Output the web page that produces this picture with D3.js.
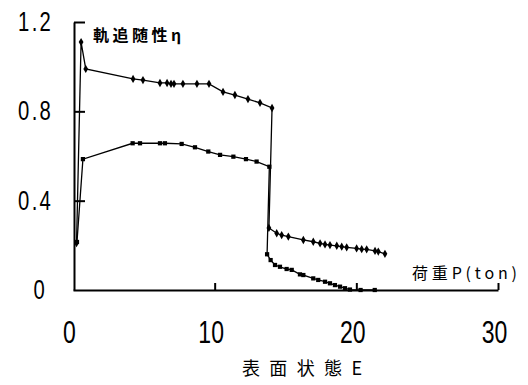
<html>
<head>
<script src="https://d3js.org/d3.v7.min.js"></script>
<style>
  body { margin: 0; background: #fff; }
  .axis path, .axis line { stroke: #000; stroke-width: 2; }
  .axis text { fill: #000; font-family: "Liberation Sans", sans-serif; }
</style>
</head>
<body>
<svg id="chart" width="528" height="385"></svg>
<script>
// x-axis / y-axis ticks
const xTicks = [0, 10, 20, 30];
const yTicks = [0, 0.4, 0.8, 1.2];

// upper curve (diamonds): [P, value]
const upperSeries = [
  [0.25, 0.21], [0.57, 1.11], [0.9, 0.99],
  [4.24, 0.945], [4.94, 0.940], [6.14, 0.927], [6.64, 0.927], [6.92, 0.923], [7.13, 0.923],
  [7.76, 0.923], [8.75, 0.923], [9.6, 0.923], [10.59, 0.887], [11.43, 0.873], [12.35, 0.855],
  [13.2, 0.838], [14.05, 0.815],
  [13.83, 0.278], [14.38, 0.254], [14.73, 0.246], [15.2, 0.239], [16.26, 0.224], [16.96, 0.216],
  [17.44, 0.209], [17.79, 0.204], [18.14, 0.201], [18.62, 0.198], [18.97, 0.194], [19.32, 0.191],
  [20.02, 0.186], [20.38, 0.183], [20.73, 0.182], [21.32, 0.175], [21.55, 0.172], [22.02, 0.162]
];

// lower curve (squares): [P, value]
const lowerSeries = [
  [0.28, 0.215], [0.7, 0.586],
  [4.21, 0.657], [4.73, 0.657], [6.14, 0.657], [6.49, 0.657], [7.67, 0.654], [8.61, 0.639],
  [9.55, 0.620], [10.38, 0.605], [11.32, 0.597], [12.21, 0.586], [12.96, 0.575], [13.86, 0.552],
  [13.7, 0.16], [13.95, 0.134], [14.26, 0.112], [14.61, 0.104], [15.08, 0.094], [15.44, 0.09],
  [16.02, 0.070], [16.26, 0.067], [16.96, 0.052], [17.31, 0.045], [17.79, 0.037], [18.14, 0.030],
  [18.49, 0.022], [18.85, 0.015], [19.2, 0.008], [19.55, 0.002], [20.3, 0.0], [21.3, 0.0]
];

const yTitle = "軌追随性η";
const xTitle = "表面状態E";
const loadTitle = "荷重P(ton)";

const svg = d3.select("svg#chart");

const xScale = d3.scaleLinear().domain([0, 30]).range([73, 498]);
const yScale = d3.scaleLinear().domain([0, 1.2]).range([290, 22]);

// x axis, ticks pointing up into the plot
let bottomAxis = d3.axisBottom(xScale)
  .tickValues(xTicks)
  .tickSize(-7)
  .tickSizeOuter(0)
  .tickPadding(30)
  .tickFormat(d3.format("d"));

let xAxisG = svg.append("g")
  .attr("class", "x axis")
  .attr("transform", "translate(0,290)")
  .call(bottomAxis);
xAxisG.selectAll(".tick line").filter(d => d === 0).remove();
xAxisG.selectAll("text")
  .attr("font-size", 32)
  .attr("transform", "scale(0.72,1)")
  .attr("x", -4 / 0.72);

// y axis, ticks pointing right
let leftAxis = d3.axisLeft(yScale)
  .tickValues(yTicks)
  .tickSize(-11)
  .tickSizeOuter(0)
  .tickFormat(d => d === 0 ? "0" : d3.format(".1f")(d));

let yAxisG = svg.append("g")
  .attr("class", "y axis")
  .attr("transform", "translate(74,0)")
  .call(leftAxis);
yAxisG.selectAll(".tick line").filter(d => d === 0).remove();
yAxisG.selectAll("text")
  .attr("font-size", 27)
  .attr("letter-spacing", 3)
  .attr("transform", "scale(0.75,1)")
  .attr("x", d => d === 0 ? -27 / 0.75 : -21 / 0.75);

// curves
let lineDrawer = d3.line()
  .x(d => xScale(d[0]))
  .y(d => yScale(d[1]))
  .curve(d3.curveLinear);

let curves = [
  { name: "upper", values: upperSeries, symbol: d3.symbolDiamond },
  { name: "lower", values: lowerSeries, symbol: d3.symbolSquare }
];

let lines = svg.selectAll("g.line")
  .data(curves)
  .join("g")
  .attr("class", "line");

lines.append("path")
  .attr("fill", "none")
  .attr("stroke", "#000")
  .attr("stroke-width", 1.3)
  .attr("d", d => lineDrawer(d.values));

lines.each(function(c) {
  d3.select(this).selectAll("path.mark")
    .data(c.values)
    .join("path")
    .attr("class", "mark")
    .attr("fill", "#000")
    .attr("d", d3.symbol().type(c.symbol).size(c.name === "upper" ? 20 : 18))
    .attr("transform", d => `translate(${xScale(d[0])},${yScale(d[1])})`);
});

// titles
svg.append("text")
  .attr("x", 93).attr("y", 41)
  .attr("font-family", "Noto Sans CJK JP")
  .attr("font-size", 16)
  .attr("font-weight", "bold")
  .attr("textLength", 88)
  .text(yTitle);

svg.append("text")
  .attr("x", 412).attr("y", 279)
  .attr("font-family", "Noto Sans CJK JP")
  .attr("font-size", 16)
  .attr("textLength", 105)
  .text(loadTitle);

svg.append("text")
  .attr("x", 242).attr("y", 375)
  .attr("font-family", "Noto Sans CJK JP")
  .attr("font-size", 18)
  .attr("textLength", 120)
  .text(xTitle);
</script>
</body>
</html>
